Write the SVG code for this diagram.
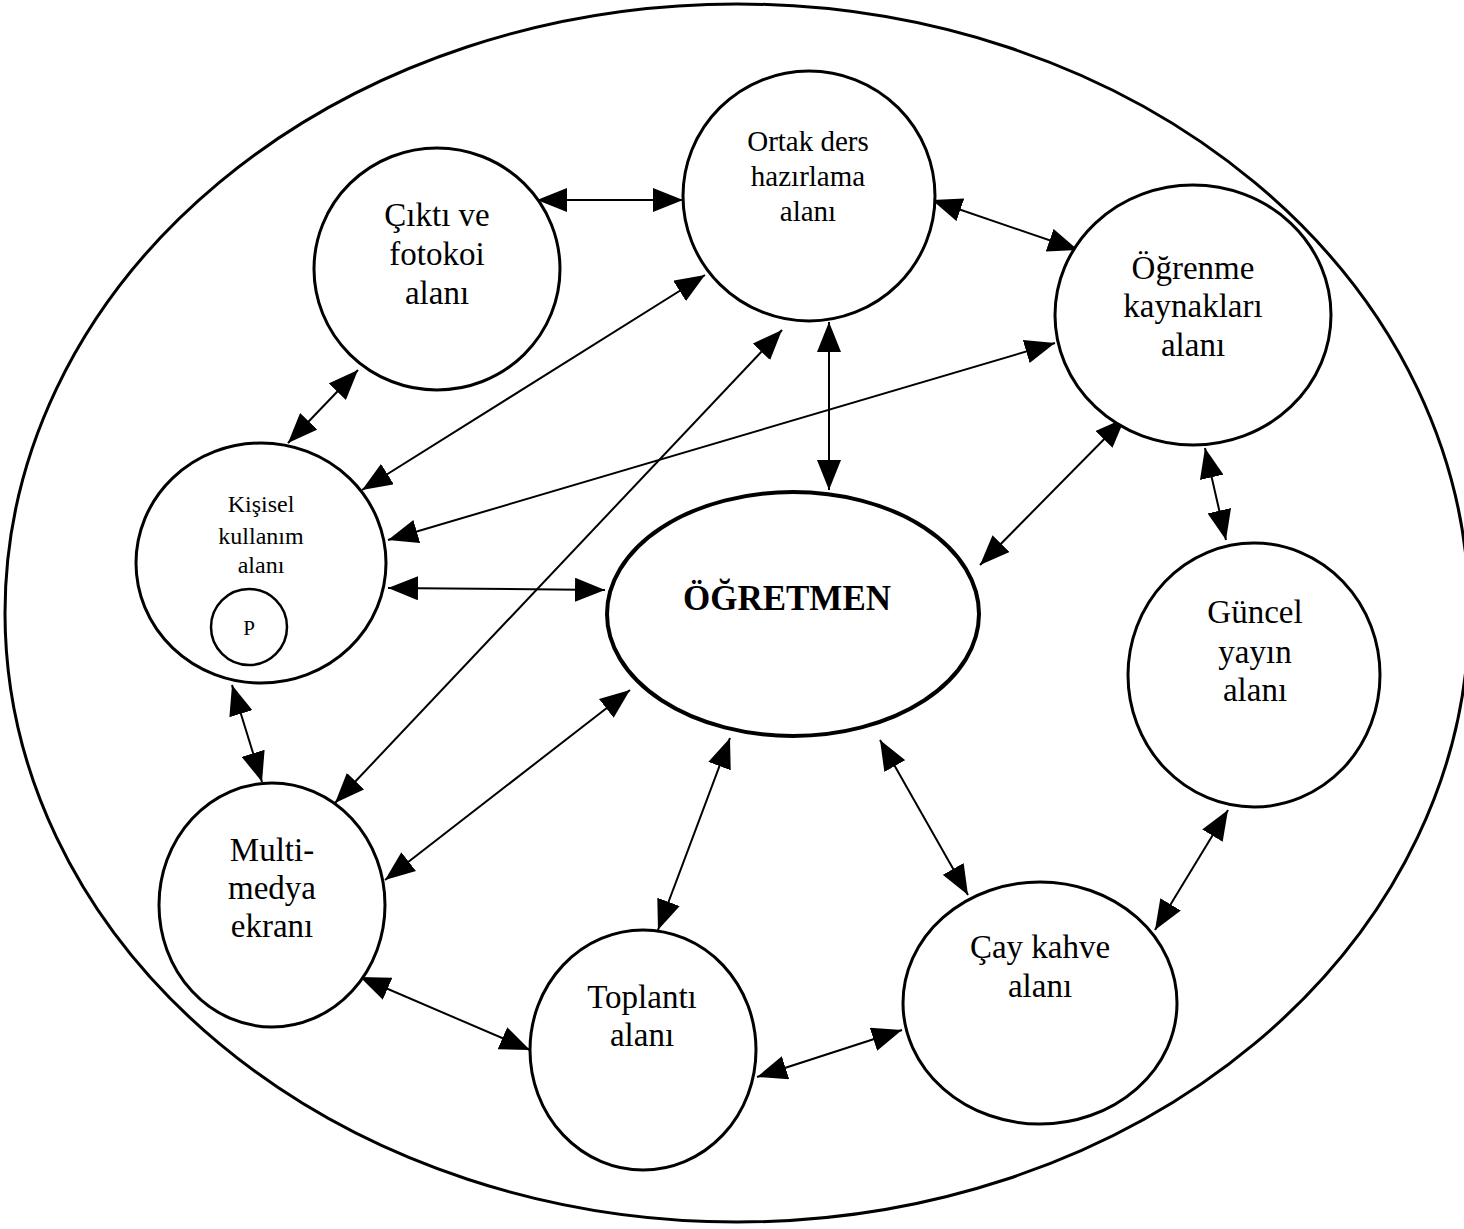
<svg xmlns="http://www.w3.org/2000/svg" width="1464" height="1229" viewBox="0 0 1464 1229">
<defs>
<marker id="ah" markerUnits="userSpaceOnUse" markerWidth="30" markerHeight="24" viewBox="0 0 30 24" refX="30" refY="12" orient="auto-start-reverse">
<path d="M0,0 L30,12 L0,24 z" fill="#000"/>
</marker>
</defs>
<style>
.n{fill:#fff;stroke:#000;stroke-width:3}
.t{font-family:"Liberation Serif","Times New Roman",serif;fill:#000;text-anchor:middle}
.c line{stroke:#000;stroke-width:2;marker-start:url(#ah);marker-end:url(#ah)}
</style>
<rect width="1464" height="1229" fill="#fff"/>
<ellipse id="outer" cx="737" cy="613" rx="732" ry="609" fill="none" stroke="#000" stroke-width="3"/>
<g class="c" id="connectors">
<line x1="537" y1="200" x2="683" y2="200"/>
<line x1="932" y1="200" x2="1078" y2="250"/>
<line x1="358" y1="370" x2="288" y2="443"/>
<line x1="705" y1="275" x2="362" y2="490"/>
<line x1="782" y1="330" x2="335" y2="803"/>
<line x1="829" y1="322" x2="829" y2="490"/>
<line x1="1055" y1="343" x2="388" y2="540"/>
<line x1="1125" y1="418" x2="980" y2="565"/>
<line x1="1205" y1="448" x2="1226" y2="540"/>
<line x1="388" y1="588" x2="605" y2="590"/>
<line x1="232" y1="685" x2="262" y2="782"/>
<line x1="630" y1="690" x2="385" y2="880"/>
<line x1="730" y1="738" x2="658" y2="930"/>
<line x1="880" y1="740" x2="968" y2="895"/>
<line x1="1228" y1="810" x2="1155" y2="930"/>
<line x1="360" y1="977" x2="530" y2="1050"/>
<line x1="757" y1="1077" x2="902" y2="1030"/>
</g>
<g id="cikti"><ellipse class="n" cx="437" cy="269" rx="123" ry="121"/>
<text class="t" font-size="33"><tspan x="437" y="226">Çıktı ve</tspan><tspan x="437" y="265">fotokoi</tspan><tspan x="437" y="304">alanı</tspan></text></g>
<g id="ortak"><ellipse class="n" cx="809" cy="196" rx="126" ry="125"/>
<text class="t" font-size="29"><tspan x="808" y="151">Ortak ders</tspan><tspan x="808" y="186">hazırlama</tspan><tspan x="808" y="221">alanı</tspan></text></g>
<g id="ogrenme"><ellipse class="n" cx="1193" cy="315" rx="138" ry="130"/>
<text class="t" font-size="33"><tspan x="1193" y="279">Öğrenme</tspan><tspan x="1193" y="317">kaynakları</tspan><tspan x="1193" y="356">alanı</tspan></text></g>
<g id="kisisel"><ellipse class="n" cx="261" cy="563" rx="125" ry="120"/>
<text class="t" font-size="24"><tspan x="261" y="512">Kişisel</tspan><tspan x="261" y="544">kullanım</tspan><tspan x="261" y="573">alanı</tspan></text>
<g id="p"><circle cx="249" cy="627" r="38" fill="#fff" stroke="#000" stroke-width="2.5"/>
<text class="t" font-size="21" x="249" y="635">P</text></g></g>
<g id="ogretmen"><ellipse cx="793" cy="614" rx="186" ry="122" fill="#fff" stroke="#000" stroke-width="4"/>
<text class="t" font-size="35" font-weight="bold" x="787" y="610">ÖĞRETMEN</text></g>
<g id="guncel"><ellipse class="n" cx="1254" cy="675" rx="126" ry="132"/>
<text class="t" font-size="33"><tspan x="1255" y="623">Güncel</tspan><tspan x="1255" y="663">yayın</tspan><tspan x="1255" y="701">alanı</tspan></text></g>
<g id="multi"><ellipse class="n" cx="272" cy="905" rx="113" ry="122"/>
<text class="t" font-size="33"><tspan x="272" y="861">Multi-</tspan><tspan x="272" y="899">medya</tspan><tspan x="272" y="937">ekranı</tspan></text></g>
<g id="toplanti"><ellipse class="n" cx="643" cy="1050" rx="113" ry="120"/>
<text class="t" font-size="33"><tspan x="642" y="1008">Toplantı</tspan><tspan x="642" y="1046">alanı</tspan></text></g>
<g id="cay"><ellipse class="n" cx="1040" cy="1003" rx="137" ry="121"/>
<text class="t" font-size="33"><tspan x="1040" y="958">Çay kahve</tspan><tspan x="1040" y="997">alanı</tspan></text></g>
</svg>
